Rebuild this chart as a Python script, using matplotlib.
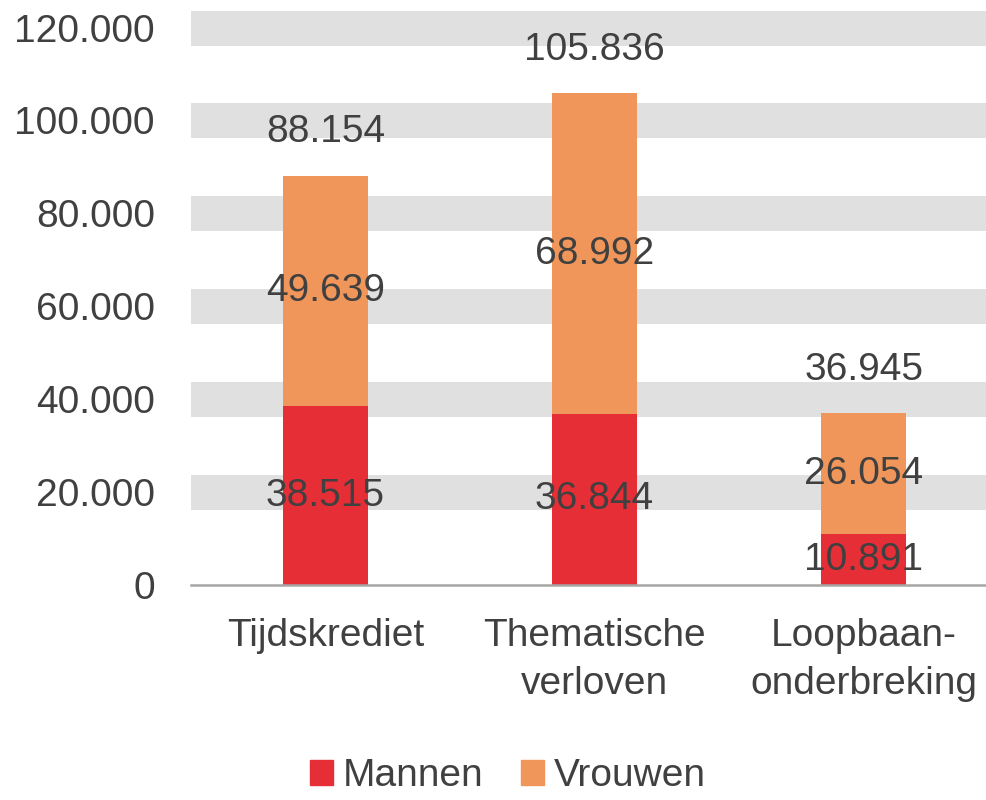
import matplotlib
matplotlib.use("Agg")
import matplotlib.pyplot as plt
from matplotlib.patches import Patch

categories = ["Tijdskrediet", "Thematische\nverloven", "Loopbaan-\nonderbreking"]
mannen = [38515, 36844, 10891]
vrouwen = [49639, 68992, 26054]
totals = [88154, 105836, 36945]
yticks = [0, 20000, 40000, 60000, 80000, 100000, 120000]
ytick_labels = ["0", "20.000", "40.000", "60.000", "80.000", "100.000", "120.000"]

def fmt(v):
    return f"{v:,}".replace(",", ".")

plt.rcParams['font.family'] = ['Liberation Sans', 'DejaVu Sans']
TXT = "#404040"
RED = "#E62E37"
ORANGE = "#F0965B"

fig = plt.figure(figsize=(9.86, 8.0), dpi=100)
ax = fig.add_axes([191/986, 215/800, 1 - 191/986, 576/800])

x = list(range(len(categories)))
w = 0.316
b1 = ax.bar(x, mannen, w, color=RED, label="Mannen", zorder=3)
b2 = ax.bar(x, vrouwen, w, bottom=mannen, color=ORANGE, label="Vrouwen", zorder=3)

ax.set_xlim(-0.5, 2.455)
ax.set_ylim(0, 124000)
ax.set_yticks(yticks)
ax.set_yticklabels(ytick_labels)
ax.set_xticks(x)
ax.set_xticklabels(categories)

ax.set_axisbelow(True)
ax.yaxis.grid(True, color="#E0E0E0", linewidth=25.2)
ax.get_ygridlines()[0].set_visible(False)
ax.xaxis.grid(False)

for s in ["top", "right", "left"]:
    ax.spines[s].set_visible(False)
ax.spines["bottom"].set_color("#A6A6A6")
ax.spines["bottom"].set_linewidth(1.8)
ax.spines["bottom"].set_zorder(4)

ax.tick_params(axis="both", length=0, labelsize=28, colors=TXT)
ax.tick_params(axis="y", pad=26)
ax.tick_params(axis="x", pad=24)
for lbl in ax.get_xticklabels():
    lbl.set_linespacing(1.4)

for i in x:
    ax.text(i, mannen[i] / 2, fmt(mannen[i]), ha="center", va="center", fontsize=28, color=TXT, zorder=5)
    ax.text(i, mannen[i] + vrouwen[i] / 2, fmt(vrouwen[i]), ha="center", va="center", fontsize=28, color=TXT, zorder=5)
    ax.annotate(fmt(totals[i]), (i, totals[i]), xytext=(0, 31), textcoords="offset points",
                ha="center", va="center", fontsize=28, color=TXT, zorder=5)

handles = [Patch(color=RED, label="Mannen"), Patch(color=ORANGE, label="Vrouwen")]
fig.legend(handles=handles, loc="center", bbox_to_anchor=(0.515, 0.03), ncol=2, frameon=False,
           fontsize=28, labelcolor=TXT, handlelength=0.6, handleheight=0.6,
           handletextpad=0.25, columnspacing=0.95, borderaxespad=0, borderpad=0)

fig.savefig("out.png", dpi=100)
